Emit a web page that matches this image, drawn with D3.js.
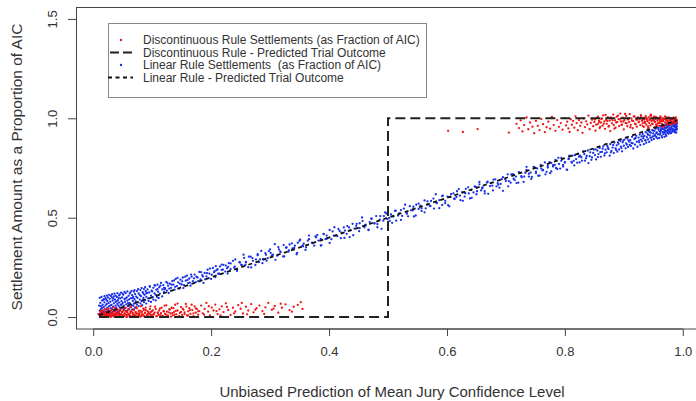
<!DOCTYPE html>
<html>
<head>
<meta charset="utf-8">
<script src="https://cdn.jsdelivr.net/npm/d3@7"></script>
<style>
  body { margin: 0; background: #fff; }
  svg { display: block; }
  text { font-family: "Liberation Sans", Arial, sans-serif; fill: #333; white-space: pre; }
</style>
</head>
<body>
<svg id="chart" width="696" height="401"></svg>
<script>
// Axis ticks
const xTicks = [0, 0.2, 0.4, 0.6, 0.8, 1.0];
const yTicks = [0, 0.5, 1.0, 1.5];

// Settlements under the discontinuous rule (x = predicted confidence, y = fraction of AIC)
const discontinuousLow = [
  [0.011,0.004],[0.012,0.019],[0.013,0.009],[0.014,0.031],[0.015,0.002],[0.016,0.014],[0.017,0.024],[0.018,0.006],[0.019,0.038],[0.020,0.011],
  [0.021,0.021],[0.022,0.003],[0.023,0.028],[0.024,0.008],[0.025,0.017],[0.026,0.042],[0.027,0.005],[0.028,0.025],[0.029,0.013],[0.030,0.001],
  [0.031,0.034],[0.032,0.010],[0.033,0.020],[0.034,0.004],[0.035,0.029],[0.036,0.015],[0.037,0.046],[0.038,0.007],[0.039,0.022],[0.040,0.012],
  [0.041,0.036],[0.042,0.002],[0.043,0.018],[0.044,0.027],[0.045,0.008],[0.046,0.040],[0.047,0.014],[0.048,0.003],[0.049,0.024],[0.050,0.010],
  [0.051,0.032],[0.052,0.006],[0.053,0.019],[0.055,0.047],[0.056,0.011],[0.057,0.026],[0.058,0.002],[0.059,0.037],[0.061,0.015],[0.062,0.008],
  [0.063,0.029],[0.064,0.051],[0.066,0.004],[0.067,0.021],[0.068,0.012],[0.069,0.039],[0.071,0.007],[0.072,0.025],[0.073,0.016],[0.074,0.044],
  [0.076,0.003],[0.077,0.031],[0.078,0.010],[0.079,0.020],[0.081,0.055],[0.082,0.006],[0.083,0.027],[0.084,0.014],[0.086,0.036],[0.087,0.002],
  [0.088,0.022],[0.089,0.048],[0.091,0.009],[0.092,0.030],[0.093,0.017],[0.094,0.004],[0.096,0.041],[0.097,0.013],[0.098,0.026],[0.099,0.007],
  [0.101,0.034],[0.103,0.015],[0.105,0.052],[0.107,0.005],[0.109,0.024],[0.111,0.011],[0.113,0.043],[0.115,0.020],[0.117,0.003],[0.119,0.031],
  [0.121,0.058],[0.123,0.013],[0.125,0.027],[0.127,0.006],[0.129,0.039],[0.131,0.018],[0.133,0.047],[0.135,0.009],[0.137,0.025],[0.139,0.062],
  [0.141,0.014],[0.143,0.033],[0.145,0.004],[0.147,0.021],[0.149,0.050],[0.151,0.011],[0.153,0.037],[0.155,0.024],[0.157,0.066],[0.159,0.008],
  [0.161,0.029],[0.163,0.045],[0.165,0.016],[0.168,0.035],[0.170,0.005],[0.172,0.054],[0.174,0.022],[0.176,0.040],[0.178,0.012],[0.180,0.030],
  [0.183,0.058],[0.186,0.019],[0.189,0.041],[0.192,0.071],[0.195,0.027],[0.198,0.009],[0.201,0.048],[0.204,0.033],[0.207,0.063],[0.211,0.015],
  [0.214,0.039],[0.218,0.054],[0.221,0.025],[0.225,0.069],[0.229,0.036],[0.233,0.011],[0.237,0.047],[0.241,0.028],[0.246,0.060],[0.250,0.042],
  [0.254,0.018],[0.259,0.052],[0.263,0.033],[0.268,0.065],[0.272,0.024],[0.277,0.045],[0.282,0.058],[0.287,0.030],[0.292,0.049],[0.297,0.071],
  [0.303,0.037],[0.308,0.056],[0.314,0.022],[0.320,0.047],[0.326,0.064],[0.333,0.035],[0.340,0.052],[0.347,0.061],[0.355,0.041],
  [0.188,0.012],[0.196,0.055],[0.209,0.030],[0.216,0.008],[0.227,0.051],[0.239,0.019],[0.252,0.071],[0.261,0.014],[0.275,0.037],[0.290,0.016],
  [0.306,0.043],[0.318,0.067],[0.337,0.027],[0.352,0.075]
];
const discontinuousLowDense = [
  [0.010,0.013],[0.012,0.027],[0.013,0.005],[0.015,0.018],[0.016,0.034],[0.017,0.009],[0.019,0.022],[0.020,0.001],[0.022,0.015],[0.023,0.041],
  [0.024,0.007],[0.026,0.025],[0.027,0.011],[0.029,0.030],[0.030,0.003],[0.031,0.019],[0.033,0.048],[0.034,0.012],[0.035,0.006],[0.037,0.028],
  [0.038,0.016],[0.040,0.037],[0.041,0.002],[0.042,0.021],[0.044,0.010],[0.045,0.033],[0.047,0.014],[0.048,0.004],[0.049,0.026],[0.051,0.044],
  [0.052,0.008],[0.054,0.017],[0.055,0.031],[0.056,0.001],[0.058,0.023],[0.059,0.012],[0.060,0.039],[0.062,0.006],[0.063,0.020],[0.065,0.029],
  [0.066,0.003],[0.068,0.015],[0.069,0.035],[0.070,0.009],[0.072,0.024],[0.073,0.050],[0.075,0.005],[0.076,0.018],[0.078,0.011],[0.079,0.032],
  [0.080,0.002],[0.082,0.027],[0.083,0.014],[0.085,0.043],[0.086,0.007],[0.088,0.021],[0.089,0.036],[0.091,0.010],[0.092,0.003],[0.094,0.025],
  [0.095,0.017],[0.097,0.054],[0.099,0.008],[0.100,0.030],[0.102,0.013],[0.104,0.022],[0.106,0.040],[0.108,0.004],[0.110,0.019],[0.112,0.033],
  [0.114,0.011],[0.116,0.047],[0.118,0.006],[0.120,0.028],[0.122,0.016],[0.124,0.059],[0.126,0.009],[0.128,0.024],[0.130,0.038],[0.132,0.002],
  [0.134,0.020],[0.136,0.045],[0.138,0.012],[0.140,0.031],[0.143,0.068],[0.146,0.005],[0.149,0.026],[0.152,0.041],[0.155,0.015],[0.158,0.053],
  [0.161,0.008],[0.164,0.035],[0.167,0.062],[0.170,0.019],[0.174,0.044],[0.178,0.029]
];
const discontinuousHigh = [
  [0.602,0.937],[0.627,0.931],[0.652,0.946],[0.705,0.928],
  [0.718,0.972],[0.722,0.951],[0.725,0.990],[0.728,0.934],[0.731,0.966],[0.735,1.004],[0.738,0.945],[0.741,0.979],[0.745,0.958],[0.748,0.925],
  [0.751,0.987],[0.754,0.962],[0.757,0.941],[0.760,0.996],[0.763,0.970],[0.766,0.930],[0.769,0.955],[0.772,0.983],[0.775,0.948],[0.778,1.007],
  [0.781,0.966],[0.784,0.937],[0.787,0.991],[0.790,0.957],[0.793,0.976],[0.796,0.943],[0.799,1.001],[0.802,0.964],
  [0.804,0.983],[0.806,0.949],[0.808,0.931],[0.810,0.995],[0.812,0.968],[0.814,0.987],[0.816,0.953],[0.818,1.010],[0.820,0.976],[0.822,0.940],
  [0.824,0.991],[0.826,0.962],[0.828,0.979],[0.830,0.927],[0.832,0.999],[0.834,0.956],[0.836,0.985],[0.838,0.969],[0.840,1.013],[0.842,0.945],
  [0.844,0.977],[0.846,0.993],[0.848,0.960],[0.850,0.982],[0.852,0.938],[0.854,1.002],[0.856,0.971],[0.858,0.988],[0.859,0.951],
  [0.861,0.979],[0.862,0.996],[0.864,0.963],[0.865,1.015],[0.867,0.985],[0.868,0.947],[0.870,0.992],[0.871,0.972],[0.873,1.006],[0.874,0.958],
  [0.876,0.988],[0.877,0.936],[0.879,0.999],[0.880,0.975],[0.882,1.019],[0.883,0.966],[0.885,0.990],[0.886,0.953],[0.888,1.008],[0.889,0.981],
  [0.891,0.996],[0.892,0.961],[0.894,1.024],[0.895,0.984],[0.897,0.969],[0.898,1.003],[0.900,0.944],[0.901,0.991],[0.903,0.977],[0.904,1.012],
  [0.906,0.960],[0.907,0.994],[0.909,0.982],[0.910,1.021],[0.912,0.967],[0.913,0.999],[0.915,0.950],[0.916,0.986],[0.918,1.009],[0.919,0.973],
  [0.921,0.993],[0.922,0.958],[0.924,1.004],[0.925,0.980],[0.927,0.997],[0.928,0.966],[0.929,1.016],
  [0.931,0.989],[0.932,0.975],[0.933,1.002],[0.934,0.957],[0.935,0.993],[0.936,0.981],[0.937,1.011],[0.938,0.968],[0.939,0.996],[0.940,0.985],
  [0.941,0.948],[0.942,1.005],[0.943,0.977],[0.944,0.992],[0.945,0.964],[0.946,1.018],[0.947,0.986],[0.948,0.998],[0.949,0.971],[0.950,0.990],
  [0.951,1.008],[0.952,0.955],[0.953,0.982],[0.954,0.997],[0.955,0.969],[0.956,1.003],[0.957,0.988],[0.958,0.976],[0.959,0.999],[0.960,0.962],
  [0.961,0.991],[0.962,1.010],[0.963,0.983],[0.964,0.995],[0.965,0.972],[0.966,1.001],[0.967,0.986],[0.968,0.960],[0.969,0.997],[0.970,0.979],
  [0.971,1.006],[0.972,0.990],[0.973,0.968],[0.974,0.998],[0.975,0.984],[0.976,1.004],[0.977,0.975],[0.978,0.993],[0.979,0.987],[0.980,1.000],
  [0.981,0.970],[0.982,0.996],[0.983,0.982],[0.984,1.003],[0.985,0.991],[0.986,0.977],[0.987,0.999],[0.988,0.986],[0.989,0.994],[0.990,0.981]
];
const discontinuousHighDense = [
  [0.851,0.994],[0.853,0.968],[0.856,1.008],[0.858,0.981],[0.860,0.957],[0.863,0.999],[0.866,0.973],[0.869,1.017],[0.872,0.986],[0.875,0.962],
  [0.878,1.004],[0.881,0.990],[0.884,0.948],[0.887,0.979],[0.890,1.013],[0.893,0.995],[0.896,0.966],[0.899,0.984],[0.902,1.022],[0.905,0.975],
  [0.908,0.998],[0.911,0.955],[0.914,0.988],[0.917,1.010],[0.920,0.970],[0.923,0.993],[0.926,0.983],[0.929,1.006],[0.932,0.961],[0.934,0.996],
  [0.936,0.978],[0.938,1.002],[0.940,0.989],[0.942,0.952],[0.944,0.997],[0.946,1.014],[0.948,0.973],[0.950,0.991],[0.952,0.985],[0.954,1.007],
  [0.956,0.964],[0.958,0.999],[0.960,0.980],[0.962,1.003],[0.964,0.992],[0.966,0.958],[0.968,0.995],[0.970,1.009],[0.972,0.976],[0.974,0.987],
  [0.976,1.001],[0.978,0.969],[0.980,0.994],[0.982,0.983],[0.984,0.998],[0.986,0.972],[0.988,1.005],[0.990,0.990],[0.935,0.979],[0.945,1.012],
  [0.955,0.967],[0.965,0.986],[0.975,1.003],[0.985,0.993],[0.961,0.975],[0.971,0.996],[0.981,0.982],[0.951,1.000],[0.941,0.959],[0.931,0.988]
];

// Settlements under the linear rule
const linearSettlements = [
  [0.011,0.032],[0.012,0.071],[0.013,0.055],[0.014,0.021],[0.015,0.083],[0.015,0.046],[0.016,0.062],[0.017,0.029],[0.018,0.090],[0.018,0.051],
  [0.019,0.074],[0.020,0.038],[0.021,0.059],[0.021,0.095],[0.022,0.027],[0.023,0.066],[0.024,0.048],[0.024,0.081],[0.025,0.035],[0.026,0.070],
  [0.027,0.054],[0.028,0.092],[0.028,0.031],[0.029,0.077],[0.030,0.044],
  [0.031,0.061],[0.032,0.098],[0.032,0.040],[0.033,0.083],[0.034,0.052],[0.035,0.104],[0.035,0.069],[0.036,0.036],[0.037,0.088],[0.038,0.058],
  [0.038,0.076],[0.039,0.047],[0.040,0.101],[0.041,0.066],[0.041,0.039],[0.042,0.085],[0.043,0.057],[0.044,0.109],[0.044,0.073],[0.045,0.049],
  [0.046,0.094],[0.047,0.063],[0.048,0.080],[0.048,0.045],[0.049,0.099],
  [0.050,0.071],[0.051,0.112],[0.052,0.058],[0.053,0.091],[0.054,0.077],[0.055,0.120],[0.056,0.064],[0.057,0.099],[0.058,0.083],[0.059,0.055],
  [0.060,0.107],[0.061,0.089],[0.062,0.070],[0.063,0.124],[0.064,0.095],[0.065,0.061],[0.066,0.110],[0.067,0.081],[0.068,0.102],[0.069,0.068],
  [0.069,0.128],[0.070,0.090],
  [0.071,0.115],[0.072,0.079],[0.074,0.131],[0.075,0.097],[0.076,0.074],[0.077,0.119],[0.079,0.088],[0.080,0.136],[0.081,0.105],[0.082,0.081],
  [0.084,0.125],[0.085,0.096],[0.086,0.141],[0.087,0.112],[0.088,0.085],[0.089,0.130],[0.090,0.102],[0.090,0.119],
  [0.092,0.139],[0.093,0.094],[0.095,0.124],[0.096,0.152],[0.098,0.108],[0.099,0.133],[0.101,0.100],[0.102,0.147],[0.104,0.119],[0.105,0.158],
  [0.106,0.112],[0.107,0.137],[0.108,0.101],[0.109,0.163],[0.110,0.128],
  [0.112,0.150],[0.113,0.118],[0.115,0.172],[0.117,0.139],[0.119,0.161],[0.120,0.126],[0.122,0.145],[0.124,0.177],[0.125,0.133],[0.127,0.158],
  [0.128,0.121],[0.130,0.168],
  [0.132,0.147],[0.134,0.181],[0.136,0.163],[0.138,0.138],[0.140,0.192],[0.142,0.156],[0.144,0.175],[0.146,0.143],[0.148,0.188],[0.150,0.164],
  [0.152,0.199],[0.154,0.160],[0.157,0.183],[0.159,0.209],[0.161,0.171],[0.163,0.194],[0.165,0.158],[0.167,0.203],[0.169,0.181],
  [0.172,0.214],[0.174,0.176],[0.177,0.199],[0.180,0.227],[0.182,0.189],[0.185,0.211],[0.187,0.172],[0.189,0.222],
  [0.192,0.205],[0.194,0.238],[0.197,0.219],[0.200,0.192],[0.203,0.247],[0.205,0.226],[0.207,0.201],[0.209,0.236],
  [0.212,0.218],[0.215,0.255],[0.218,0.237],[0.221,0.263],[0.224,0.229],[0.227,0.246],[0.230,0.271],[0.233,0.241],[0.237,0.283],[0.240,0.254],
  [0.244,0.232],[0.248,0.276],
  [0.252,0.262],[0.256,0.298],[0.259,0.275],[0.263,0.251],[0.267,0.304],[0.271,0.283],[0.275,0.262],[0.279,0.316],[0.283,0.290],[0.287,0.271],
  [0.292,0.322],[0.296,0.296],[0.300,0.341],[0.305,0.314],[0.309,0.288],[0.314,0.352],[0.318,0.327],[0.322,0.305],[0.327,0.349],
  [0.332,0.336],[0.337,0.371],[0.341,0.348],[0.346,0.323],[0.350,0.384],[0.355,0.359],[0.360,0.338],[0.366,0.392],
  [0.372,0.371],[0.377,0.406],[0.382,0.385],[0.386,0.360],[0.391,0.419],[0.396,0.394],[0.401,0.373],[0.406,0.431],
  [0.411,0.410],[0.416,0.443],[0.421,0.425],[0.426,0.398],[0.431,0.458],[0.436,0.436],[0.441,0.412],[0.447,0.469],
  [0.452,0.448],[0.457,0.483],[0.462,0.461],[0.467,0.437],[0.472,0.496],[0.477,0.472],[0.482,0.452],[0.487,0.508],
  [0.492,0.485],[0.497,0.521],[0.502,0.499],[0.507,0.474],[0.512,0.534],[0.517,0.511],[0.522,0.489],[0.527,0.546],
  [0.532,0.522],[0.537,0.558],[0.542,0.537],[0.547,0.511],[0.552,0.571],[0.557,0.548],[0.562,0.527],[0.567,0.582],
  [0.572,0.559],[0.577,0.596],[0.582,0.574],[0.587,0.548],[0.592,0.608],[0.597,0.585],[0.602,0.563],[0.607,0.619],
  [0.612,0.596],[0.617,0.633],[0.622,0.611],[0.627,0.585],[0.632,0.645],[0.637,0.622],[0.642,0.600],[0.647,0.657],
  [0.651,0.633],[0.655,0.668],[0.660,0.648],[0.664,0.622],[0.669,0.681],[0.673,0.659],[0.678,0.637],[0.682,0.693],[0.687,0.666],
  [0.691,0.670],[0.695,0.704],[0.700,0.684],[0.704,0.658],[0.709,0.718],[0.713,0.696],[0.718,0.674],[0.722,0.729],[0.727,0.703],
  [0.731,0.707],[0.735,0.741],[0.739,0.721],[0.743,0.695],[0.747,0.755],[0.751,0.732],[0.755,0.711],[0.759,0.766],[0.763,0.740],[0.767,0.718],
  [0.771,0.752],[0.774,0.779],[0.777,0.733],[0.780,0.764],[0.784,0.791],[0.787,0.745],[0.790,0.770],[0.794,0.801],[0.797,0.757],[0.800,0.779],
  [0.804,0.741],[0.807,0.796],
  [0.811,0.781],[0.813,0.812],[0.816,0.763],[0.819,0.795],[0.822,0.821],[0.825,0.778],[0.828,0.804],[0.831,0.833],[0.834,0.787],[0.837,0.811],
  [0.840,0.775],[0.843,0.829],[0.846,0.803],[0.849,0.843],
  [0.851,0.815],[0.853,0.793],[0.855,0.838],[0.857,0.820],[0.859,0.851],[0.861,0.806],[0.863,0.831],[0.865,0.859],[0.867,0.813],[0.869,0.842],
  [0.871,0.829],[0.872,0.861],[0.874,0.845],[0.876,0.812],[0.877,0.870],[0.879,0.836],[0.881,0.853],[0.883,0.825],[0.884,0.878],[0.886,0.848],
  [0.888,0.864],[0.889,0.832],
  [0.891,0.871],[0.892,0.843],[0.894,0.886],[0.895,0.858],[0.897,0.834],[0.898,0.879],[0.900,0.862],[0.901,0.893],[0.903,0.849],[0.904,0.874],
  [0.906,0.898],[0.907,0.856],[0.909,0.883],[0.910,0.866],
  [0.911,0.890],[0.912,0.861],[0.914,0.907],[0.915,0.874],[0.916,0.848],[0.918,0.896],[0.919,0.868],[0.921,0.912],[0.922,0.882],[0.923,0.857],
  [0.925,0.903],[0.926,0.879],[0.927,0.918],[0.928,0.866],[0.929,0.893],[0.930,0.909],
  [0.931,0.884],[0.932,0.921],[0.933,0.899],[0.934,0.870],[0.935,0.912],[0.936,0.889],[0.937,0.930],[0.938,0.877],[0.939,0.905],[0.940,0.923],
  [0.941,0.894],[0.942,0.936],[0.943,0.881],[0.944,0.914],[0.945,0.902],[0.946,0.927],[0.947,0.890],[0.948,0.941],[0.949,0.909],[0.950,0.924],
  [0.951,0.896],[0.952,0.937],[0.953,0.915],[0.954,0.948],[0.955,0.906],[0.956,0.929],[0.957,0.953],[0.958,0.919],[0.959,0.942],[0.960,0.901],
  [0.961,0.934],[0.962,0.958],[0.962,0.925],[0.963,0.945],[0.964,0.912],[0.965,0.951],[0.966,0.932],[0.967,0.962],[0.967,0.920],[0.968,0.944],
  [0.969,0.907],[0.969,0.956],[0.970,0.938],[0.970,0.966],[0.970,0.927],
  [0.971,0.949],[0.971,0.918],[0.972,0.964],[0.973,0.936],[0.973,0.955],[0.974,0.926],[0.975,0.969],[0.975,0.944],[0.976,0.958],[0.977,0.931],
  [0.977,0.973],[0.978,0.950],[0.979,0.939],[0.979,0.966],[0.980,0.925],[0.981,0.957],[0.981,0.977],[0.982,0.946],[0.983,0.968],[0.983,0.933],
  [0.984,0.960],[0.985,0.981],[0.985,0.942],[0.986,0.971],[0.987,0.953],[0.987,0.929],[0.988,0.976],[0.988,0.962],[0.989,0.947],[0.989,0.985]
];
const linearLowDense = [
  [0.009,0.015],[0.010,0.058],[0.011,0.097],[0.012,0.012],[0.013,0.040],[0.014,0.101],[0.016,0.009],[0.017,0.086],[0.018,0.017],[0.019,0.105],
  [0.020,0.024],[0.021,0.011],[0.022,0.087],[0.023,0.108],[0.024,0.016],[0.025,0.099],[0.026,0.013],[0.027,0.112],[0.028,0.022],[0.029,0.058],
  [0.030,0.106],[0.031,0.019],[0.032,0.115],[0.033,0.026],[0.034,0.093],[0.035,0.014],[0.036,0.118],[0.037,0.030],[0.038,0.108],[0.039,0.021],
  [0.040,0.079],[0.041,0.120],[0.042,0.028],[0.043,0.097],[0.044,0.018],[0.045,0.114],[0.046,0.034],[0.047,0.123],[0.048,0.062],[0.049,0.025],
  [0.050,0.118],[0.052,0.036],[0.053,0.127],[0.054,0.045],[0.055,0.093],[0.057,0.031],[0.058,0.129],[0.059,0.070],[0.061,0.041],[0.062,0.118],
  [0.063,0.052],[0.065,0.132],[0.066,0.038],[0.067,0.096],[0.068,0.057],[0.070,0.136],[0.071,0.047],[0.073,0.103],[0.074,0.063],[0.076,0.140],
  [0.077,0.055],[0.079,0.111],[0.080,0.069],[0.082,0.146],[0.083,0.060],[0.085,0.118],[0.086,0.075],[0.088,0.150],[0.090,0.068],[0.092,0.122],
  [0.094,0.081],[0.096,0.156],[0.098,0.076],[0.100,0.129],[0.102,0.088],[0.104,0.161],[0.106,0.084],[0.109,0.141],[0.111,0.096],[0.114,0.158],
  [0.117,0.104],[0.120,0.147],
  [0.121,0.139],[0.126,0.171],[0.129,0.143],[0.133,0.163],[0.137,0.184],[0.139,0.152],[0.143,0.197],[0.147,0.168],[0.151,0.180],[0.153,0.146],
  [0.156,0.203],[0.160,0.187],[0.164,0.173],[0.166,0.214],[0.171,0.195],[0.175,0.203],[0.178,0.181],[0.183,0.226],[0.186,0.204],[0.190,0.190],
  [0.193,0.221],[0.198,0.244],[0.201,0.213],[0.206,0.231],[0.208,0.256]
];
const linearMid = [
  [0.211,0.241],[0.214,0.218],[0.218,0.264],[0.220,0.239],[0.225,0.259],[0.228,0.219],[0.229,0.253],[0.233,0.270],[0.239,0.249],[0.241,0.290],
  [0.244,0.240],[0.249,0.274],[0.251,0.263],[0.255,0.314],[0.258,0.262],[0.259,0.278],[0.264,0.304],[0.268,0.250],[0.270,0.297],[0.276,0.290],
  [0.279,0.311],[0.281,0.277],[0.285,0.333],[0.288,0.292],[0.293,0.313],[0.294,0.283],[0.298,0.332],[0.301,0.323],[0.303,0.310],[0.308,0.367],
  [0.312,0.309],[0.315,0.341],[0.317,0.331],[0.323,0.362],[0.324,0.305],[0.328,0.350],[0.331,0.329],[0.333,0.365],[0.338,0.345],[0.342,0.359],
  [0.345,0.316],[0.347,0.374],[0.351,0.390],[0.356,0.356],[0.357,0.369],[0.361,0.351],[0.364,0.385],[0.366,0.410],[0.371,0.374],[0.375,0.359],
  [0.378,0.401],[0.380,0.412],[0.386,0.393],[0.387,0.361],[0.391,0.417],[0.394,0.392],[0.396,0.410],[0.401,0.438],[0.404,0.392],[0.408,0.410],
  [0.409,0.452],[0.414,0.407],[0.418,0.433],[0.420,0.397],[0.425,0.451],[0.427,0.435],[0.430,0.419],[0.434,0.451],[0.435,0.402],[0.440,0.469],
  [0.443,0.445],[0.446,0.459],[0.451,0.432],[0.452,0.472],[0.456,0.501],[0.460,0.452],[0.462,0.465],[0.467,0.440],[0.469,0.478],[0.472,0.493],
  [0.477,0.471],[0.480,0.508],[0.482,0.468],[0.486,0.490],[0.489,0.444],[0.493,0.508],[0.495,0.527],[0.499,0.493],[0.503,0.484],[0.505,0.516],
  [0.509,0.506],[0.513,0.535],[0.514,0.485],[0.519,0.522],[0.522,0.538],[0.524,0.509],[0.529,0.565],[0.532,0.520],[0.534,0.507],[0.539,0.537],
  [0.543,0.555],[0.544,0.506],[0.548,0.565],[0.552,0.544],[0.555,0.561],[0.557,0.534],[0.562,0.587],[0.564,0.547],[0.567,0.566],[0.571,0.558],
  [0.573,0.584],[0.578,0.546],[0.581,0.618],[0.583,0.575],[0.587,0.588],[0.592,0.564],[0.593,0.611],[0.597,0.573],[0.601,0.606],[0.604,0.557],
  [0.606,0.604],[0.611,0.622],[0.613,0.594],[0.616,0.604],[0.620,0.644],[0.623,0.588],[0.626,0.628],[0.630,0.606],[0.631,0.623],[0.636,0.653],
  [0.639,0.597],[0.641,0.639],[0.645,0.627],[0.649,0.655],[0.650,0.618],[0.655,0.680],[0.658,0.637],[0.660,0.652],[0.664,0.634],[0.668,0.677],
  [0.670,0.620],[0.674,0.674],[0.677,0.661],[0.679,0.692],[0.684,0.658],[0.686,0.674],[0.689,0.651],[0.693,0.694],[0.695,0.635],[0.699,0.693],
  [0.703,0.718],[0.705,0.684],[0.708,0.676],[0.712,0.719],[0.715,0.689],[0.717,0.707],[0.721,0.676],[0.724,0.725],[0.726,0.709],[0.730,0.680],
  [0.733,0.726],[0.735,0.756],[0.739,0.707],[0.742,0.727],[0.744,0.705],[0.748,0.754],[0.751,0.724],[0.753,0.748],[0.757,0.712],[0.760,0.747],
  [0.762,0.738],[0.766,0.778],[0.769,0.731],[0.771,0.760],[0.775,0.724],[0.777,0.776],[0.780,0.757],[0.783,0.766],[0.785,0.750],[0.789,0.801],
  [0.792,0.747],[0.794,0.787],[0.797,0.765],[0.800,0.778],[0.803,0.742],[0.806,0.795],[0.808,0.812],[0.812,0.777],[0.815,0.786],[0.817,0.815],
  [0.821,0.777],[0.824,0.807]
];
const linearHighDense = [
  [0.826,0.812],[0.829,0.787],[0.833,0.820],[0.836,0.799],[0.839,0.838],[0.842,0.809],[0.845,0.791],[0.848,0.826],[0.852,0.844],[0.856,0.805],
  [0.860,0.830],[0.864,0.847],[0.868,0.824],[0.873,0.852],[0.878,0.829],[0.882,0.866],[0.887,0.841],[0.890,0.879],[0.896,0.850],[0.899,0.887],
  [0.905,0.868],[0.908,0.889],[0.913,0.876],[0.920,0.901],[0.926,0.887],
  [0.933,0.908],[0.937,0.889],[0.941,0.917],[0.944,0.931],[0.947,0.903],[0.950,0.938],[0.952,0.912],[0.955,0.925],[0.957,0.899],[0.959,0.951],
  [0.961,0.918],[0.963,0.937],[0.965,0.904],[0.966,0.947],[0.968,0.929],[0.970,0.952],[0.971,0.935],[0.972,0.911],[0.974,0.961],[0.975,0.939],
  [0.976,0.922],[0.977,0.965],[0.978,0.944],[0.979,0.927],[0.980,0.970],[0.981,0.951],[0.982,0.936],[0.983,0.975],[0.984,0.944],[0.985,0.962],
  [0.986,0.934],[0.986,0.979],[0.987,0.958],[0.988,0.940],[0.988,0.969],[0.989,0.954],[0.989,0.928],[0.990,0.973],[0.990,0.960],[0.990,0.945]
];

// Predicted trial outcomes under each rule
const discontinuousOutcome = [[0.01, 0], [0.5, 0], [0.5, 1], [0.99, 1]];
const linearOutcome = [[0.01, 0.01], [0.99, 0.99]];

const legendLabels = [
  "Discontinuous Rule Settlements (as Fraction of AIC)",
  "Discontinuous Rule - Predicted Trial Outcome",
  "Linear Rule Settlements  (as Fraction of AIC)",
  "Linear Rule - Predicted Trial Outcome"
];

const xTitle = "Unbiased Prediction of Mean Jury Confidence Level";
const yTitle = "Settlement Amount as a Proportion of AIC";

const RED = "#f01414", BLUE = "#1830e6", INK = "#444";

const svg = d3.select("#chart");

// Data ranges padded by 4% on each side
const x = d3.scaleLinear().domain([0.01 - 0.0392, 0.99 + 0.0392]).range([76, 700]);
const y = d3.scaleLinear().domain([-0.06, 1.56]).range([329, 7]);

// Settlement points: linear rule first, discontinuous rule on top
const pts = svg.append("g");
pts.selectAll("circle.lin")
  .data(linearSettlements.concat(linearLowDense, linearMid, linearHighDense))
  .join("circle").attr("class", "lin")
  .attr("cx", d => x(d[0])).attr("cy", d => y(d[1])).attr("r", 1.15).attr("fill", BLUE);
pts.selectAll("circle.disc")
  .data(discontinuousLow.concat(discontinuousLowDense, discontinuousHigh, discontinuousHighDense))
  .join("circle").attr("class", "disc")
  .attr("cx", d => x(d[0])).attr("cy", d => y(d[1])).attr("r", 1.15).attr("fill", RED);

// Predicted outcome lines
const line = d3.line().x(d => x(d[0])).y(d => y(d[1]));
svg.append("path").attr("d", line(discontinuousOutcome))
  .attr("fill", "none").attr("stroke", "#222").attr("stroke-width", 2)
  .attr("stroke-dasharray", "10,5");
svg.append("path").attr("d", line(linearOutcome))
  .attr("fill", "none").attr("stroke", "#111").attr("stroke-width", 1.8)
  .attr("stroke-dasharray", "4,3.5");

// Plot frame
svg.append("rect").attr("x", 76.5).attr("y", 7.5).attr("width", 624).attr("height", 321.5)
  .attr("fill", "none").attr("stroke", INK);

// Axes
const gx = svg.append("g").attr("transform", "translate(0,329)")
  .call(d3.axisBottom(x).tickValues(xTicks).tickFormat(d3.format(".1f")).tickSize(7).tickSizeOuter(0).tickPadding(11));
gx.select(".domain").remove();
gx.append("line").attr("x1", x(xTicks[0])).attr("x2", x(xTicks[xTicks.length - 1])).attr("stroke", INK);

const gy = svg.append("g").attr("transform", "translate(76,0)")
  .call(d3.axisLeft(y).tickValues(yTicks).tickFormat(d3.format(".1f")).tickSize(8).tickSizeOuter(0));
gy.select(".domain").remove();
gy.selectAll(".tick text")
  .attr("transform", "rotate(-90)").attr("x", 0).attr("y", -19).attr("dy", 0)
  .attr("text-anchor", "middle");

[gx, gy].forEach(g => {
  g.selectAll(".tick line").attr("stroke", INK);
  g.selectAll(".tick text").attr("fill", "#333").style("font-size", "13px")
    .style("font-family", "'Liberation Sans', Arial, sans-serif");
});

// Axis titles
svg.append("text").attr("x", 392).attr("y", 397).attr("text-anchor", "middle")
  .style("font-size", "15px").text(xTitle);
svg.append("text").attr("transform", "translate(22,167) rotate(-90)").attr("text-anchor", "middle")
  .style("font-size", "15.5px").text(yTitle);

// Legend
const lg = svg.append("g");
lg.append("rect").attr("x", 108.5).attr("y", 23.5).attr("width", 318).attr("height", 74)
  .attr("fill", "#fff").attr("stroke", "#888");
const rowY = i => 40 + i * 12.5;
lg.append("circle").attr("cx", 121).attr("cy", rowY(0)).attr("r", 1.2).attr("fill", RED);
lg.append("line").attr("x1", 110).attr("x2", 133).attr("y1", rowY(1)).attr("y2", rowY(1))
  .attr("stroke", "#222").attr("stroke-width", 2).attr("stroke-dasharray", "9,4");
lg.append("circle").attr("cx", 121).attr("cy", rowY(2)).attr("r", 1.2).attr("fill", BLUE);
lg.append("line").attr("x1", 108).attr("x2", 133).attr("y1", rowY(3)).attr("y2", rowY(3))
  .attr("stroke", "#111").attr("stroke-width", 1.8).attr("stroke-dasharray", "4,3.5");
lg.selectAll("text.lab").data(legendLabels).join("text").attr("class", "lab")
  .attr("x", 143).attr("y", (d, i) => rowY(i)).attr("dy", "0.35em")
  .style("font-size", "12px").text(d => d);
</script>
</body>
</html>
